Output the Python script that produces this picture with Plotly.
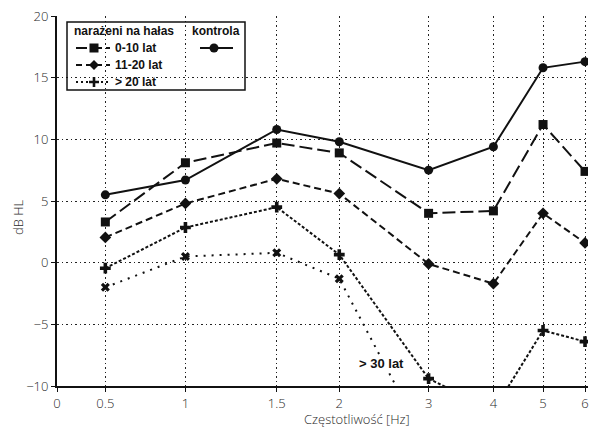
import plotly.graph_objects as go

# Frequency tick labels and their positions on the (non-uniform) printed axis scale
freq_labels = ["0", "0.5", "1", "1.5", "2", "3", "4", "5", "6"]
freq_axis_pos = [0, 48.7, 129.4, 221.4, 284.4, 374.4, 439.7, 489.7, 532]

# Measured frequencies (labels) for data series
freqs = ["0.5", "1", "1.5", "2", "3", "4", "5", "6"]

kontrola = [5.5, 6.7, 10.8, 9.8, 7.5, 9.4, 15.8, 16.3]
lat_0_10 = [3.3, 8.1, 9.7, 8.9, 4.0, 4.2, 11.2, 7.4]
lat_11_20 = [2.05, 4.8, 6.8, 5.6, -0.1, -1.7, 4.0, 1.6]
lat_gt20 = [-0.45, 2.85, 4.5, 0.65, -9.4, -12.0, -5.5, -6.4]
lat_gt30 = [-2.0, 0.5, 0.8, -1.3, -15.0]

y_ticks = [-10, -5, 0, 5, 10, 15, 20]

pos_map = dict(zip(freq_labels, freq_axis_pos))
def xs(n):
    return [pos_map[f] for f in freqs[:n]]

INK = "#111111"
W, H = 592, 434
ML, MR, MT, MB = 57, 4, 16, 48
PW, PH = W - ML - MR, H - MT - MB

def px(x):
    return (x - ML) / PW

def py(y):
    return 1 - (y - MT) / PH

series = [
    ("0-10 lat", lat_0_10, "13px,5px", "square", 9),
    ("11-20 lat", lat_11_20, "7px,4px", "diamond", 9),
    ("> 20 lat", lat_gt20, "3px,2px", "cross", 9),
    ("> 30 lat", lat_gt30, "2px,6px", "x", 8),
    ("kontrola", kontrola, "solid", "circle", 9),
]

fig = go.Figure()
for name, vals, dash, sym, size in series:
    fig.add_trace(go.Scatter(
        x=xs(len(vals)), y=vals, name=name, mode="lines+markers",
        line=dict(color=INK, width=2, dash=dash),
        marker=dict(symbol=sym, size=size, color=INK),
        showlegend=False, cliponaxis=True))

tick_font = dict(family="Open Sans", size=13, color="#2a2a2a", weight=300)
grid = dict(showgrid=True, gridcolor="#222222", gridwidth=1.2, griddash="1.5px,3px")

fig.update_xaxes(
    range=[0, 535], tickvals=freq_axis_pos, ticktext=freq_labels,
    showline=True, linecolor=INK, linewidth=2, ticks="outside", ticklen=4,
    tickcolor=INK, tickfont=tick_font, zeroline=False, **grid)
fig.update_yaxes(
    range=[-10, 20], tickvals=y_ticks, showline=True, linecolor=INK, linewidth=2,
    ticks="outside", ticklen=4, tickcolor=INK, tickfont=tick_font,
    zeroline=False, **grid)

leg_font = dict(family="Liberation Sans", size=12, color=INK, weight="bold")

# ---- hand-drawn legend box (two columns) ----
shapes = [dict(type="rect", xref="paper", yref="paper",
               x0=px(67), x1=px(245), y0=py(90), y1=py(22),
               line=dict(color=INK, width=1.5), fillcolor="rgba(0,0,0,0)", layer="above")]
annotations = [
    dict(text="narażeni na hałas", x=px(72), y=py(31), xref="paper", yref="paper",
         xanchor="left", yanchor="middle", showarrow=False, font=leg_font),
    dict(text="kontrola", x=px(190), y=py(31), xref="paper", yref="paper",
         xanchor="left", yanchor="middle", showarrow=False, font=leg_font),
]

def legend_sample(cx, cy, x0, x1, dash, sym):
    shapes.append(dict(type="line", xref="paper", yref="paper",
                       x0=px(x0), x1=px(x1), y0=py(cy), y1=py(cy),
                       line=dict(color=INK, width=2, dash=dash)))
    a = dict(xref="paper", yref="paper", xsizemode="pixel", ysizemode="pixel",
             xanchor=px(cx), yanchor=py(cy), fillcolor=INK,
             line=dict(color=INK, width=0))
    if sym == "square":
        shapes.append(dict(type="rect", x0=-4.5, x1=4.5, y0=-4.5, y1=4.5, **a))
    elif sym == "circle":
        shapes.append(dict(type="circle", x0=-4.5, x1=4.5, y0=-4.5, y1=4.5, **a))
    elif sym == "diamond":
        shapes.append(dict(type="path", path="M 0 5 L 5 0 L 0 -5 L -5 0 Z", **a))
    elif sym == "cross":
        shapes.append(dict(type="path",
                           path="M -1.3 5 L 1.3 5 L 1.3 1.3 L 5 1.3 L 5 -1.3 L 1.3 -1.3 "
                                "L 1.3 -5 L -1.3 -5 L -1.3 -1.3 L -5 -1.3 L -5 1.3 L -1.3 1.3 Z",
                           **a))

legend_rows = [
    (48, "0-10 lat", "11px,4px", "square"),
    (65, "11-20 lat", "6px,4px", "diamond"),
    (82, "> 20 lat", "2px,3px", "cross"),
]
for cy, label, dash, sym in legend_rows:
    legend_sample(94, cy, 76, 110, dash, sym)
    annotations.append(dict(text=label, x=px(113), y=py(cy), xref="paper", yref="paper",
                            xanchor="left", yanchor="middle", showarrow=False, font=leg_font))
legend_sample(214, 48, 200, 233, "solid", "circle")

annotations += [
    dict(text="> 30 lat", x=327, y=-8.2, xref="x", yref="y", showarrow=False,
         bgcolor="white", borderpad=0,
         font=dict(family="Liberation Sans", size=13, color=INK, weight="bold")),
    dict(text="dB HL", x=px(18), y=py(217), xref="paper", yref="paper",
         xanchor="center", yanchor="middle", showarrow=False, textangle=-90,
         font=dict(family="Open Sans", size=13, color="#2a2a2a", weight=300)),
    dict(text="Częstotliwość [Hz]", x=px(357), y=py(419),
         xref="paper", yref="paper", xanchor="center", yanchor="middle", showarrow=False,
         font=dict(family="Open Sans", size=13, color="#2a2a2a", weight=300)),
]

fig.update_layout(
    width=W, height=H,
    margin=dict(l=ML, r=MR, t=MT, b=MB),
    plot_bgcolor="white", paper_bgcolor="white",
    showlegend=False,
    shapes=shapes, annotations=annotations,
)

fig.write_html("out.html")
